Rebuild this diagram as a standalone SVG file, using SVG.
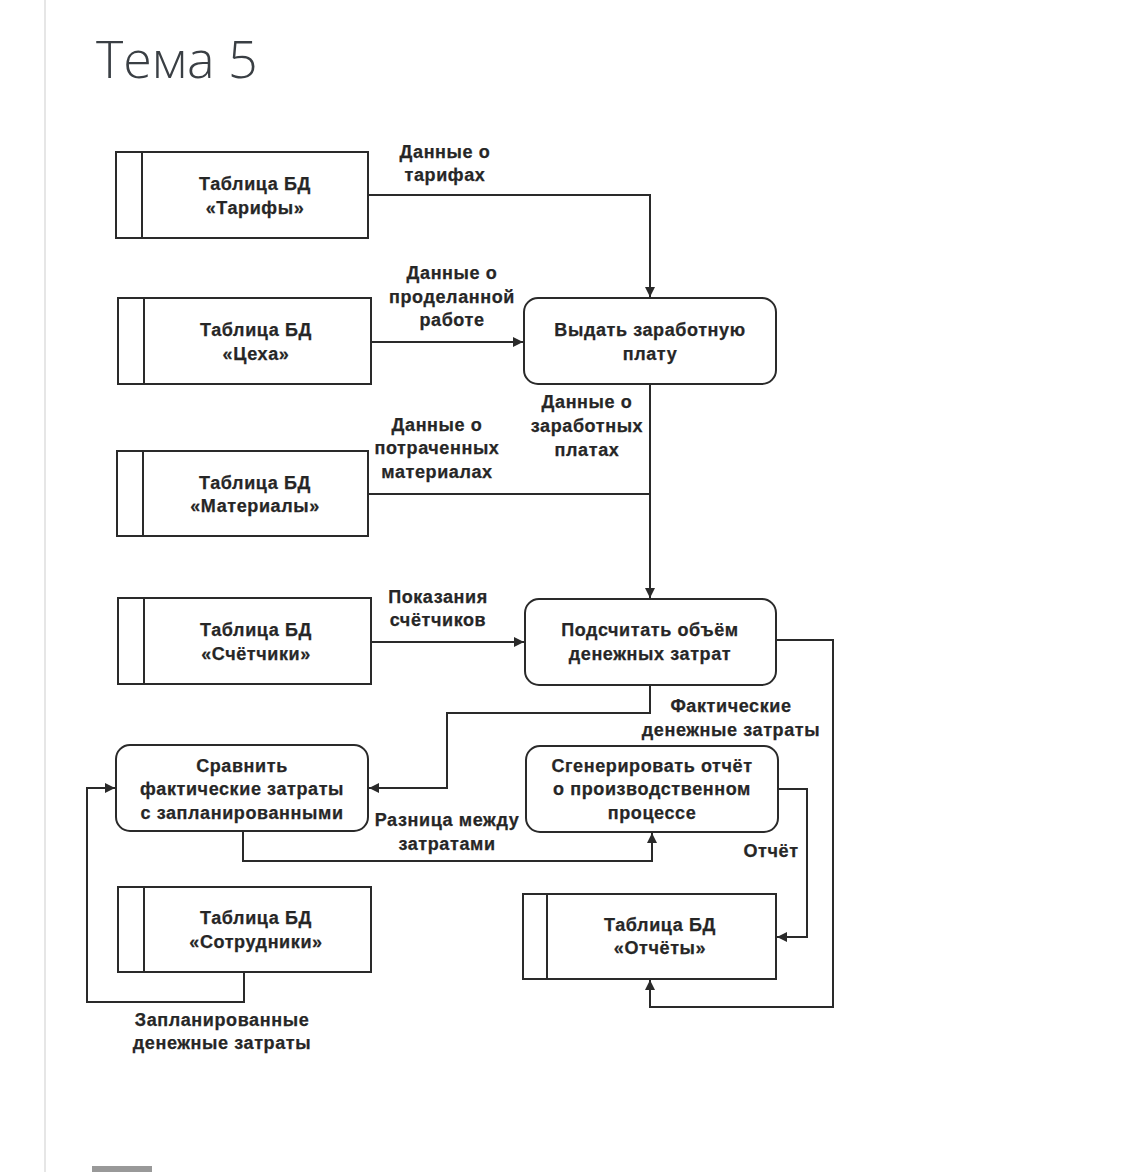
<svg xmlns="http://www.w3.org/2000/svg" width="1132" height="1172" viewBox="0 0 1132 1172">
<defs>
<style>
.box{fill:#fff;stroke:#2a2a2a;stroke-width:2}
.ln{fill:none;stroke:#2a2a2a;stroke-width:2}
.t{font-family:"Liberation Sans",Arial,sans-serif;font-weight:bold;font-size:18px;letter-spacing:0.6px;fill:#262626;stroke:#262626;stroke-width:0.25;text-anchor:middle}
.title{font-family:"Open Sans",sans-serif;font-weight:300;font-size:52px;fill:#3a3f44}
</style>
<marker id="ah" viewBox="0 0 10 10" refX="10" refY="5" markerWidth="5" markerHeight="5" orient="auto" markerUnits="strokeWidth">
<path d="M0,0 L10,5 L0,10 z" fill="#2a2a2a"/>
</marker>
</defs>
<rect width="1132" height="1172" fill="#fff"/>
<line x1="45" y1="0" x2="45" y2="1172" stroke="#e6e6e6" stroke-width="2"/>
<rect x="92" y="1166" width="60" height="6" fill="#999"/>
<text class="title" x="96" y="78">Тема 5</text>

<g id="connectors">
<polyline class="ln" points="368,195 650,195 650,297" marker-end="url(#ah)"/>
<polyline class="ln" points="371,342 523,342" marker-end="url(#ah)"/>
<polyline class="ln" points="650,384 650,598" marker-end="url(#ah)"/>
<polyline class="ln" points="368,494 650,494"/>
<polyline class="ln" points="371,642 524,642" marker-end="url(#ah)"/>
<polyline class="ln" points="650,685 650,713 447,713 447,788 369,788" marker-end="url(#ah)"/>
<polyline class="ln" points="776,640 833,640 833,1007 650,1007 650,980" marker-end="url(#ah)"/>
<polyline class="ln" points="243,831 243,861 652,861 652,833" marker-end="url(#ah)"/>
<polyline class="ln" points="778,789 807,789 807,937 777,937" marker-end="url(#ah)"/>
<polyline class="ln" points="244,972 244,1002 87,1002 87,788 115,788" marker-end="url(#ah)"/>
<g class="t">
<text x="445" y="158">Данные о</text><text x="445" y="181">тарифах</text>
<text x="452" y="279">Данные о</text><text x="452" y="303">проделанной</text><text x="452" y="326">работе</text>
<text x="587" y="408">Данные о</text><text x="587" y="432">заработных</text><text x="587" y="456">платах</text>
<text x="437" y="431">Данные о</text><text x="437" y="454">потраченных</text><text x="437" y="478">материалах</text>
<text x="438" y="603">Показания</text><text x="438" y="626">счётчиков</text>
<text x="731" y="712">Фактические</text><text x="731" y="736">денежные затраты</text>
<text x="447" y="826">Разница между</text><text x="447" y="850">затратами</text>
<text x="771" y="857">Отчёт</text>
<text x="222" y="1026">Запланированные</text><text x="222" y="1049">денежные затраты</text>
</g>
</g>

<g id="store-tarify">
<rect class="box" x="116" y="152" width="252" height="86"/>
<line class="ln" x1="142" y1="152" x2="142" y2="238"/>
<text class="t" x="255" y="190">Таблица БД</text><text class="t" x="255" y="214">«Тарифы»</text>
</g>
<g id="store-ceha">
<rect class="box" x="118" y="298" width="253" height="86"/>
<line class="ln" x1="144" y1="298" x2="144" y2="384"/>
<text class="t" x="256" y="336">Таблица БД</text><text class="t" x="256" y="360">«Цеха»</text>
</g>
<g id="store-materialy">
<rect class="box" x="117" y="451" width="251" height="85"/>
<line class="ln" x1="143" y1="451" x2="143" y2="536"/>
<text class="t" x="255" y="489">Таблица БД</text><text class="t" x="255" y="512">«Материалы»</text>
</g>
<g id="store-schetchiki">
<rect class="box" x="118" y="598" width="253" height="86"/>
<line class="ln" x1="144" y1="598" x2="144" y2="684"/>
<text class="t" x="256" y="636">Таблица БД</text><text class="t" x="256" y="660">«Счётчики»</text>
</g>
<g id="store-sotrudniki">
<rect class="box" x="118" y="887" width="253" height="85"/>
<line class="ln" x1="144" y1="887" x2="144" y2="972"/>
<text class="t" x="256" y="924">Таблица БД</text><text class="t" x="256" y="948">«Сотрудники»</text>
</g>
<g id="store-otchety">
<rect class="box" x="523" y="894" width="253" height="85"/>
<line class="ln" x1="547" y1="894" x2="547" y2="979"/>
<text class="t" x="660" y="931">Таблица БД</text><text class="t" x="660" y="954">«Отчёты»</text>
</g>
<g id="proc-vydat">
<rect class="box" x="524" y="298" width="252" height="86" rx="14"/>
<text class="t" x="650" y="336">Выдать заработную</text><text class="t" x="650" y="360">плату</text>
</g>
<g id="proc-podschitat">
<rect class="box" x="525" y="599" width="251" height="86" rx="14"/>
<text class="t" x="650" y="636">Подсчитать объём</text><text class="t" x="650" y="660">денежных затрат</text>
</g>
<g id="proc-sravnit">
<rect class="box" x="116" y="745" width="252" height="86" rx="14"/>
<text class="t" x="242" y="772">Сравнить</text><text class="t" x="242" y="795">фактические затраты</text><text class="t" x="242" y="819">с запланированными</text>
</g>
<g id="proc-sgenerirovat">
<rect class="box" x="526" y="746" width="252" height="86" rx="14"/>
<text class="t" x="652" y="772">Сгенерировать отчёт</text><text class="t" x="652" y="795">о производственном</text><text class="t" x="652" y="819">процессе</text>
</g>
</svg>
